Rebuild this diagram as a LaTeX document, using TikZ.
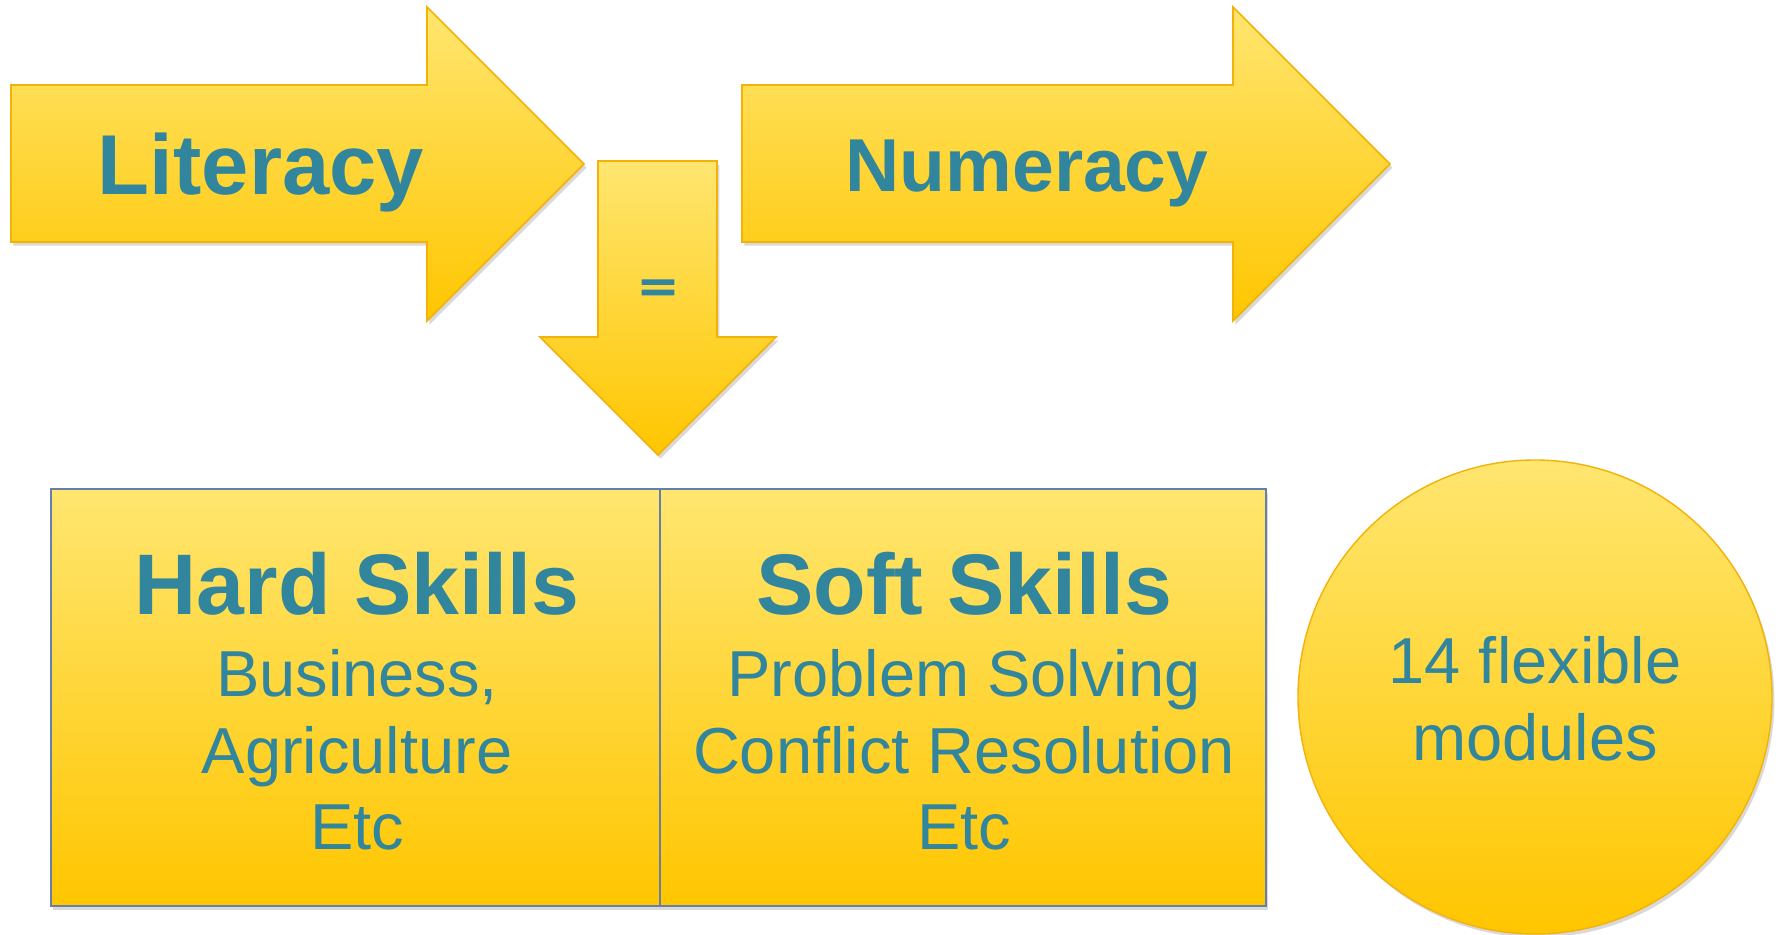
\documentclass[tikz,border=0pt]{standalone}
\usepackage{fontspec}
\setmainfont{Liberation Sans}
\newfontfamily\eqfont{Liberation Sans Bold}[FakeBold=4]
\usetikzlibrary{shadows}
\definecolor{ytop}{RGB}{255,230,112}
\definecolor{ybot}{RGB}{255,198,0}
\definecolor{arrowline}{RGB}{243,178,8}
\definecolor{boxline}{RGB}{100,128,168}
\definecolor{tealtext}{RGB}{49,133,156}
\tikzset{
  goldfill/.style={top color=ytop, bottom color=ybot},
  softshadow/.style={drop shadow={shadow xshift=1.2pt, shadow yshift=-1.8pt, opacity=0.25, fill=black!60}},
  arrowshape/.style={goldfill, draw=arrowline, line width=0.8pt, line join=miter, softshadow},
  boxshape/.style={goldfill, draw=boxline, line width=0.8pt, softshadow},
  circshape/.style={goldfill, draw=arrowline, line width=0.7pt, softshadow},
  bigbold/.style={text=tealtext, anchor=base, inner sep=0pt, font=\bfseries\fontsize{43}{50}\selectfont},
  bodytxt/.style={text=tealtext, anchor=base, inner sep=0pt, font=\fontsize{32.5}{38}\selectfont},
}
\begin{document}
\begin{tikzpicture}[x=0.5pt,y=-0.5pt]
\useasboundingbox (0,0) rectangle (1779,935);
% Literacy arrow
\path[arrowshape] (11,85) -- (427,85) -- (427,7) -- (584,164) -- (427,321) -- (427,242) -- (11,242) -- cycle;
% Numeracy arrow
\path[arrowshape] (742,85) -- (1233,85) -- (1233,7) -- (1390,164) -- (1233,321) -- (1233,242) -- (742,242) -- cycle;
% Down arrow
\path[arrowshape] (598,161) -- (717,161) -- (717,337) -- (776,337) -- (658,455) -- (540,337) -- (598,337) -- cycle;
% Boxes
\path[boxshape] (51,489) rectangle (660,906);
\path[boxshape] (660,489) rectangle (1266,906);
% Circle
\path[circshape] (1535,697) circle[radius=118.5pt];
% Texts
\node[bigbold, font=\bfseries\fontsize{42.5}{50}\selectfont] (lit) at (261,195) {Literacy};
\node[bigbold, font=\bfseries\fontsize{37.5}{44}\selectfont] (num) at (1027,192) {Numeracy};
\node[bigbold, font=\eqfont\fontsize{32}{40}\selectfont] (eq) at (658,300) {\scalebox{0.95}[0.6]{=}};
\node[bigbold] (hard) at (357,615) {Hard Skills};
\node[bigbold] (soft) at (964,615) {Soft Skills};
\node[bodytxt] (h1) at (357,697) {Business,};
\node[bodytxt] (h2) at (357,773) {Agriculture};
\node[bodytxt] (h3) at (357,849) {Etc};
\node[bodytxt] (s1) at (964,697) {Problem Solving};
\node[bodytxt] (s2) at (964,773) {Conflict Resolution};
\node[bodytxt] (s3) at (964,849) {Etc};
\node[bodytxt] (c1) at (1535,683) {14 flexible};
\node[bodytxt] (c2) at (1535,760) {modules};
\end{tikzpicture}
\end{document}
